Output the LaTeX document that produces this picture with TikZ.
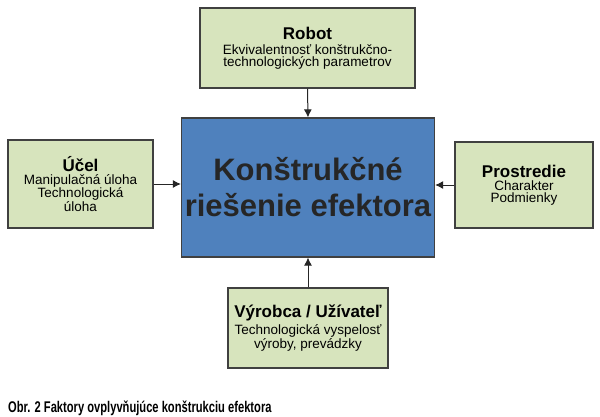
\documentclass[tikz,border=0pt]{standalone}
\usepackage{fontspec}
\setmainfont{Liberation Sans}
\usepackage{graphicx}
\usetikzlibrary{arrows.meta}
\definecolor{gfill}{RGB}{215,228,189}
\definecolor{bfill}{RGB}{79,129,189}
\newcommand{\hd}[1]{\fontsize{17}{20}\selectfont\bfseries #1}
\newcommand{\bd}{\fontsize{13.5}{17}\selectfont\mdseries}
\begin{document}
\begin{tikzpicture}[x=1pt,y=-1pt,
  gbox/.style={draw=black!75,line width=1.2pt,fill=gfill,align=center,inner sep=0pt},
  arr/.style={-{Latex[length=8pt,width=8pt]},line width=1pt,black!85}]
\useasboundingbox (0,0) rectangle (600,416);
\fill[white] (0,0) rectangle (600,416);
\node[gbox,minimum width=215pt,minimum height=80pt] (robot) at (307.5,48) {\hd{Robot}\\[3pt]\bd Ekvivalentnosť konštrukčno-\\\bd technologických parametrov};
\node[gbox,minimum width=145pt,minimum height=88pt] (ucel) at (80.5,184) {\hd{Účel}\\[1pt]\bd Manipulačná úloha\\\bd Technologická\\\bd úloha};
\node[gbox,minimum width=138pt,minimum height=86pt] (prost) at (524,185) {\hd{Prostredie}\\[1pt]\bd Charakter\\\bd Podmienky};
\node[gbox,minimum width=160pt,minimum height=80pt] (vyr) at (308,328) {\hd{Výrobca / Užívateľ}\\[3pt]\bd Technologická vyspelosť\\\bd výroby, prevádzky};
\node[draw=black!75,line width=1.2pt,fill=bfill,minimum width=252pt,minimum height=139pt,align=center,font=\fontsize{31}{36}\selectfont\bfseries,text=black!85] (c) at (308,187.5) {Konštrukčné\\riešenie efektora};
\draw[arr] (robot.south) -- (c.north);
\draw[arr] (vyr.north) -- (c.south);
\draw[arr] (ucel.east) -- (c.west|-ucel.east);
\draw[arr] (prost.west) -- (c.east|-prost.west);
\node[anchor=west,inner sep=0pt] (cap) at (8,408) {\scalebox{0.72}[1]{\fontsize{15.5}{18}\selectfont\bfseries Obr. 2 Faktory ovplyvňujúce konštrukciu efektora}};
\end{tikzpicture}
\end{document}
